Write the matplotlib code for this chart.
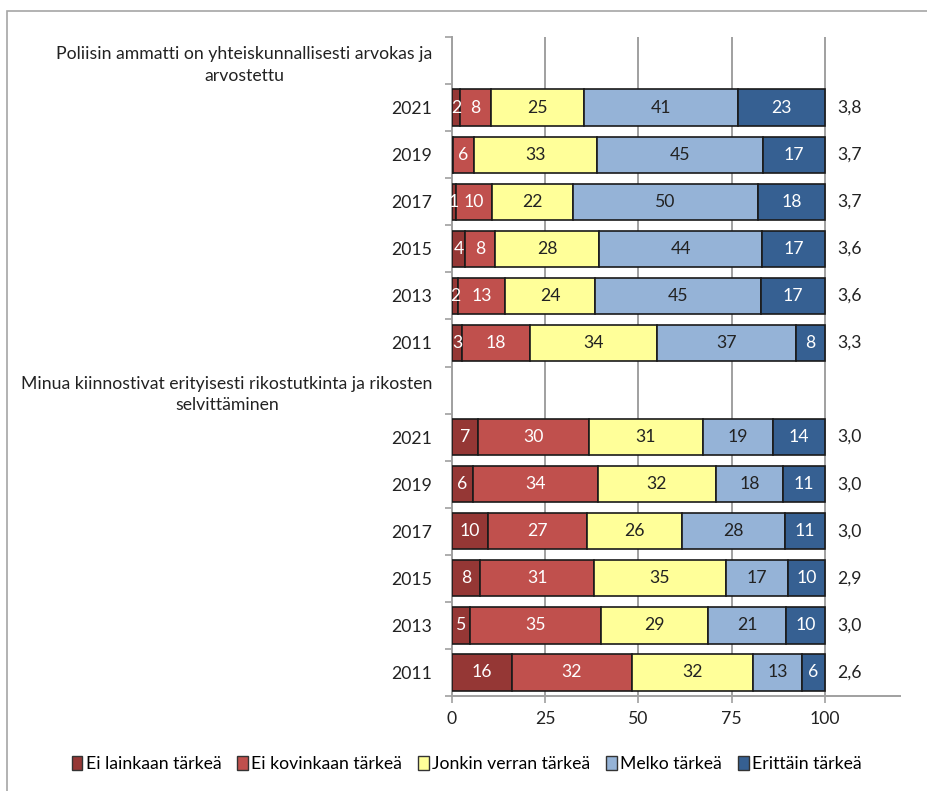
import numpy as np
import matplotlib
matplotlib.use("Agg")
import matplotlib.pyplot as plt
from matplotlib.patches import Rectangle, Patch

plt.rcParams["font.family"] = ["Lato", "DejaVu Sans"]

# rivit: otsikko, vuodet, otsikko, vuodet
rows = ["Poliisin ammatti on yhteiskunnallisesti arvokas ja\narvostettu",
        "2021", "2019", "2017", "2015", "2013", "2011",
        "Minua kiinnostivat erityisesti rikostutkinta ja rikosten\nselvittäminen",
        "2021", "2019", "2017", "2015", "2013", "2011"]

series = ["Ei lainkaan tärkeä", "Ei kovinkaan tärkeä", "Jonkin verran tärkeä",
          "Melko tärkeä", "Erittäin tärkeä"]
colors = ["#953735", "#C0504D", "#FFFF99", "#95B3D7", "#366092"]
text_colors = ["white", "white", "#222222", "#222222", "white"]

# prosentit, None = otsikkorivi
ei_lainkaan = [None, 2.2, 0.2, 1.0, 3.6, 1.6, 2.7, None, 7.0, 5.6, 9.6, 7.6, 4.8, 16.0]
ei_kovinkaan = [None, 8.2, 5.6, 9.6, 8.0, 12.6, 18.1, None, 29.7, 33.6, 26.6, 30.6, 35.2, 32.4]
jonkin_verran = [None, 25.0, 33.0, 21.9, 27.8, 24.2, 34.3, None, 30.6, 31.6, 25.6, 35.2, 28.6, 32.4]
melko = [None, 41.3, 44.6, 49.6, 43.9, 44.6, 37.1, None, 18.7, 18.1, 27.6, 16.7, 21.1, 13.2]
erittain = [None, 23.3, 16.6, 17.9, 16.7, 17.0, 7.8, None, 14.0, 11.1, 10.6, 9.9, 10.3, 6.0]
keskiarvo = [None, "3,8", "3,7", "3,7", "3,6", "3,6", "3,3",
             None, "3,0", "3,0", "3,0", "2,9", "3,0", "2,6"]

data = [ei_lainkaan, ei_kovinkaan, jonkin_verran, melko, erittain]
fs = 12.7

fig = plt.figure(figsize=(9.28, 7.91), dpi=100)
fig.patches.append(Rectangle((7 / 928, -0.1), 1.1, 1 - 11 / 791 + 0.1, transform=fig.transFigure,
                             fill=False, edgecolor="#a6a6a6", linewidth=1.2))
ax = fig.add_axes([452 / 928, 1 - 696 / 791, 448 / 928, 659 / 791])

y = np.arange(len(rows))
for i in y:
    left = 0
    if data[0][i] is None:
        continue
    for s in range(5):
        v = data[s][i]
        ax.barh(i, v, left=left, height=0.77, color=colors[s], edgecolor="#1a1a1a",
                linewidth=1.2, zorder=3)
        if v >= 0.5:
            ax.text(left + v / 2, i, "%d" % round(v), ha="center", va="center",
                    color=text_colors[s], fontsize=fs, zorder=4)
        left += v
    ax.text(103.4, i, keskiarvo[i], ha="left", va="center", fontsize=fs, color="#222222")

ax.set_xlim(0, 120.2)
ax.set_ylim(13.5, -0.5)
ax.set_xticks([0, 25, 50, 75, 100])
ax.set_xticklabels(["0", "25", "50", "75", "100"], fontsize=fs)
ax.tick_params(axis="x", length=5, width=1.2, color="#a0a0a0", pad=6, labelcolor="#222222")
ax.grid(axis="x", color="#a0a0a0", linewidth=1.4, zorder=0)

ax.set_yticks(np.arange(-0.5, 14, 1))
ax.set_yticklabels([])
ax.set_yticks(y, minor=True)
ax.set_yticklabels(rows, minor=True, fontsize=fs)
for lab in ax.get_yticklabels(minor=True):
    lab.set_multialignment("center")
    lab.set_linespacing(1.45)
ax.tick_params(axis="y", which="major", length=5, width=1.2, color="#a0a0a0")
ax.tick_params(axis="y", which="minor", length=0, pad=14, labelcolor="#222222")

for side in ["top", "right"]:
    ax.spines[side].set_visible(False)
for side in ["left", "bottom"]:
    ax.spines[side].set_color("#a0a0a0")
    ax.spines[side].set_linewidth(1.4)

handles = [Patch(facecolor=colors[s], edgecolor="#333333", label=series[s]) for s in range(5)]
fig.legend(handles=handles, loc="center", bbox_to_anchor=(0.503, 1 - 764 / 791), ncol=5,
           frameon=False, fontsize=fs, handlelength=0.6, handleheight=0.8,
           handletextpad=0.2, columnspacing=0.9)

fig.savefig("out.png", dpi=100)
